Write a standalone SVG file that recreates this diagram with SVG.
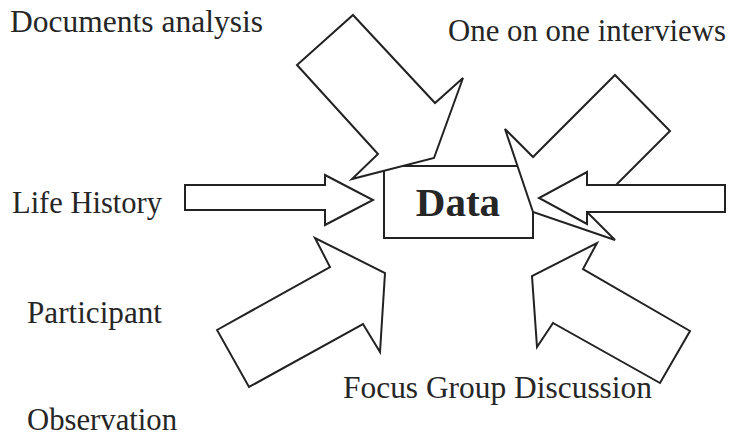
<svg xmlns="http://www.w3.org/2000/svg" width="733" height="436" viewBox="0 0 733 436">
  <style>
    .label { font-family: "Liberation Serif", "Times New Roman", serif; font-size: 31px; fill: #262626; }
    .title { font-family: "Liberation Serif", "Times New Roman", serif; font-size: 41px; font-weight: bold; fill: #262626; text-anchor: middle; }
    .shape { fill: #ffffff; stroke: #222222; stroke-width: 2; stroke-linejoin: miter; }
  </style>
  <rect width="733" height="436" fill="#ffffff"/>

  <!-- source labels -->
  <g id="labels">
    <text class="label" x="10" y="32" textLength="253" lengthAdjust="spacingAndGlyphs">Documents analysis</text>
    <text class="label" x="448" y="41" textLength="278" lengthAdjust="spacingAndGlyphs">One on one interviews</text>
    <text class="label" x="12" y="213" textLength="150" lengthAdjust="spacingAndGlyphs">Life History</text>
    <text class="label" x="27" y="323" textLength="135" lengthAdjust="spacingAndGlyphs">Participant</text>
    <text class="label" x="27" y="430" textLength="150" lengthAdjust="spacingAndGlyphs">Observation</text>
    <text class="label" x="343" y="398" textLength="309" lengthAdjust="spacingAndGlyphs">Focus Group Discussion</text>
  </g>

  <!-- central node -->
  <g id="data">
    <rect class="shape" x="384" y="166" width="149" height="72"/>
    <text class="title" x="458" y="216">Data</text>
  </g>

  <!-- block arrows pointing at the central node -->
  <g id="connectors">
    <polygon id="arrow-documents" class="shape" points="353,15 435,103 463,78 434,158 352,179 378,154 297,65"/>
    <polygon id="arrow-interviews" class="shape" points="615,75 670,131 588,213 615,240 533,212 505,129 533,157"/>
    <polygon id="arrow-history-right" class="shape" points="725,185 725,212 587,212 587,224 539,198 587,172 587,185"/>
    <polygon id="arrow-life-history" class="shape" points="185,185 325,185 325,175 373,200 325,225 325,210 185,210"/>
    <polygon id="arrow-participant" class="shape" points="217,330 330,267 315,238 385,273 380,352 363,324 249,387"/>
    <polygon id="arrow-focus-group" class="shape" points="597,243 583,269 690,331 660,383 553,323 537,347 532,276"/>
  </g>
</svg>
